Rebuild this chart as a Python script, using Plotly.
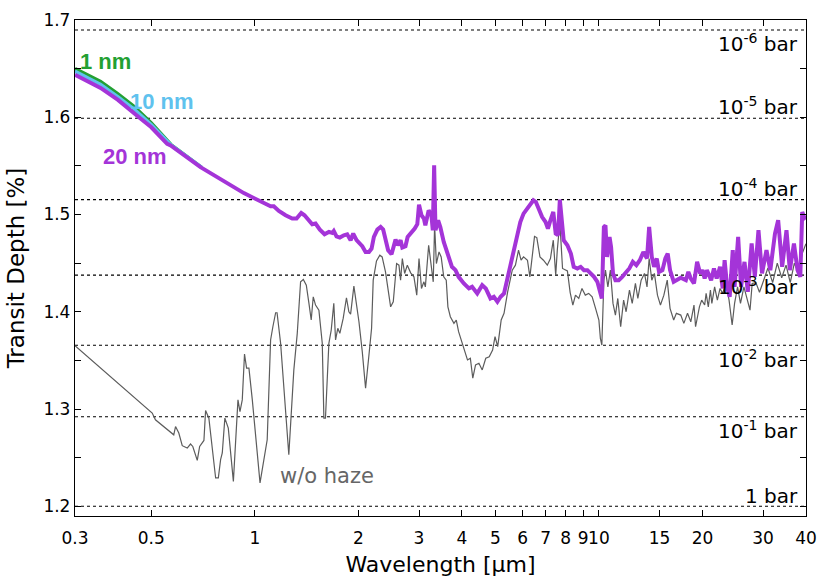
import math
import plotly.graph_objects as go

# ---------------- data ----------------
wl_nohaze = [0.3, 0.4, 0.503, 0.514, 0.55, 0.581, 0.588, 0.601, 0.615, 0.636, 0.650, 0.660, 0.680, 0.691,
             0.711, 0.719, 0.735, 0.752, 0.769, 0.783, 0.795, 0.804, 0.818, 0.837, 0.850, 0.866, 0.893,
             0.905, 0.919, 0.933, 0.946, 0.961, 0.983, 1.035, 1.086, 1.111, 1.128, 1.149, 1.160, 1.188,
             1.255, 1.298, 1.328, 1.358, 1.383, 1.411, 1.436, 1.458, 1.478, 1.501, 1.535, 1.570, 1.587,
             1.604, 1.641, 1.667, 1.696, 1.716, 1.742, 1.766, 1.806, 1.846, 1.876, 1.898, 1.940, 1.985,
             2.007, 2.052, 2.098, 2.146, 2.184, 2.208, 2.257, 2.308, 2.344, 2.397, 2.481, 2.525, 2.582,
             2.623, 2.652, 2.683, 2.725, 2.774, 2.837, 2.900, 2.955, 3.000, 3.05, 3.10, 3.13, 3.20, 3.26,
             3.30, 3.33, 3.37, 3.43, 3.48, 3.54, 3.60, 3.64, 3.70, 3.79, 3.85, 3.91, 4.00, 4.09, 4.15,
             4.23, 4.30, 4.38, 4.48, 4.58, 4.69, 4.80, 4.91, 4.99, 5.08, 5.20, 5.30, 5.43, 5.60, 5.72,
             5.84, 5.94, 6.04, 6.20, 6.30, 6.50, 6.60, 6.74, 6.90, 7.08, 7.23, 7.37, 7.49, 7.57, 7.70,
             7.84, 8.10, 8.25, 8.40, 8.55, 8.74, 8.93, 9.13, 9.34, 9.56, 9.78, 10.0, 10.1, 10.2, 10.34,
             10.45, 10.62, 10.80, 10.99, 11.17, 11.35, 11.57, 11.80, 12.00, 12.27, 12.50, 12.77, 12.98,
             13.27, 13.57, 13.80, 14.00, 14.25, 14.50, 14.80, 15.10, 15.45, 15.80, 16.10, 16.50, 16.80,
             17.3, 17.66, 18.1, 18.5, 18.9, 19.1, 19.6, 19.9, 20.3, 20.5, 20.8, 21.1, 21.3, 21.7, 22.1,
             22.5, 22.9, 23.4, 23.9, 24.4, 24.8, 25.3, 25.8, 26.4, 27.0, 27.5, 27.9, 28.6, 29.3, 30.0,
             31.0, 32.0, 33.0, 34.0, 35.0, 36.0, 37.0, 38.0, 39.0, 40.0]
depth_nohaze = [1.3651, 1.3269, 1.2958, 1.2889, 1.2804, 1.2735, 1.2820, 1.2753, 1.2623, 1.2599, 1.2640,
                1.2615, 1.2472, 1.2615, 1.2677, 1.2985, 1.2906, 1.2582, 1.2291, 1.2291, 1.2479, 1.2548,
                1.2906, 1.2804, 1.2548, 1.2256, 1.3094, 1.2974, 1.3094, 1.3566, 1.3420, 1.3420, 1.3094,
                1.2240, 1.2684, 1.3710, 1.3846, 1.3990, 1.3990, 1.3676, 1.2530, 1.3402, 1.3778, 1.4308,
                1.4332, 1.4274, 1.4086, 1.3915, 1.4154, 1.4069, 1.4017, 1.3676, 1.2906, 1.2906, 1.3676,
                1.3812, 1.4086, 1.3710, 1.3830, 1.3778, 1.3932, 1.4144, 1.4000, 1.3976, 1.4264, 1.4035,
                1.3897, 1.3590, 1.3214, 1.3556, 1.3830, 1.4325, 1.4523, 1.4582, 1.4564, 1.4410, 1.4051,
                1.4103, 1.4496, 1.4479, 1.4325, 1.4548, 1.4394, 1.4479, 1.4400, 1.4359, 1.4171, 1.4548,
                1.4240, 1.4308, 1.4256, 1.4684, 1.4462, 1.4308, 1.4889, 1.4496, 1.4615, 1.4564, 1.4359,
                1.4325, 1.4051, 1.3949, 1.3881, 1.3915, 1.3795, 1.3676, 1.3573, 1.3505, 1.3522, 1.3317,
                1.3453, 1.3470, 1.3402, 1.3522, 1.3538, 1.3607, 1.3744, 1.3641, 1.3915, 1.3984, 1.4205,
                1.4428, 1.4479, 1.4633, 1.4530, 1.4564, 1.4530, 1.4359, 1.4774, 1.4763, 1.4564, 1.4530,
                1.4479, 1.4548, 1.4736, 1.4377, 1.4633, 1.4923, 1.4445, 1.4420, 1.4200, 1.4069, 1.4171,
                1.4137, 1.4240, 1.4171, 1.4189, 1.4154, 1.4035, 1.3915, 1.3727, 1.3658, 1.4325, 1.4428,
                1.4256, 1.4428, 1.4086, 1.3966, 1.4137, 1.3846, 1.4120, 1.4000, 1.4223, 1.4086, 1.4291,
                1.4137, 1.4325, 1.4394, 1.4256, 1.4548, 1.4325, 1.4394, 1.4171, 1.4069, 1.4171, 1.4325,
                1.4035, 1.3915, 1.3984, 1.3966, 1.3881, 1.3984, 1.3897, 1.4069, 1.3846, 1.4051, 1.4120,
                1.4069, 1.4189, 1.4051, 1.4223, 1.4086, 1.4256, 1.4120, 1.4240, 1.4189, 1.4291, 1.4120,
                1.3864, 1.4086, 1.4256, 1.4086, 1.4256, 1.4120, 1.4017, 1.4291, 1.4300, 1.4200, 1.4300,
                1.4450, 1.4300, 1.4500, 1.4350, 1.4480, 1.4300, 1.4500, 1.4400, 1.4600, 1.4700]

wl_20nm = [0.300, 0.356, 0.400, 0.445, 0.466, 0.500, 0.556, 0.569, 0.695, 0.929, 1.039, 1.074, 1.111,
           1.135, 1.174, 1.228, 1.284, 1.322, 1.342, 1.364, 1.394, 1.436, 1.468, 1.501, 1.545, 1.594,
           1.641, 1.679, 1.696, 1.727, 1.766, 1.814, 1.855, 1.898, 1.931, 1.975, 2.020, 2.052, 2.098,
           2.146, 2.184, 2.218, 2.270, 2.320, 2.360, 2.397, 2.440, 2.496, 2.534, 2.564, 2.604, 2.652,
           2.683, 2.740, 2.780, 2.845, 2.915, 2.966, 3.000, 3.050, 3.100, 3.130, 3.200, 3.260, 3.290,
           3.320, 3.350, 3.410, 3.460, 3.540, 3.580, 3.640, 3.740, 3.830, 3.910, 4.050, 4.190, 4.280,
           4.430, 4.580, 4.690, 4.840, 4.950, 5.070, 5.180, 5.300, 5.410, 5.530, 5.650, 5.780, 5.910,
           6.040, 6.190, 6.330, 6.450, 6.560, 6.700, 6.840, 7.000, 7.110, 7.230, 7.370, 7.490, 7.610,
           7.700, 7.780, 7.900, 8.100, 8.290, 8.450, 8.660, 8.850, 9.050, 9.260, 9.470, 9.680, 9.900,
           10.13, 10.20, 10.34, 10.45, 10.56, 10.74, 10.85, 10.99, 11.17, 11.42, 11.69, 11.97, 12.26,
           12.55, 12.85, 13.15, 13.47, 13.80, 14.00, 14.25, 14.47, 14.73, 14.96, 15.30, 15.60, 15.85,
           16.10, 16.50, 16.90, 17.30, 17.90, 18.20, 18.50, 18.90, 19.30, 19.70, 20.00, 20.30, 20.60,
           21.20, 21.60, 22.00, 22.50, 22.90, 23.20, 23.60, 24.00, 24.50, 24.80, 25.40, 25.90, 26.50,
           27.10, 27.80, 28.40, 29.10, 29.80, 30.70, 31.50, 32.50, 33.20, 34.10, 35.10, 35.90, 36.90,
           37.80, 38.50, 39.00, 39.50, 40.00]
depth_20nm = [1.6438, 1.6302, 1.6178, 1.6051, 1.5984, 1.5897, 1.5727, 1.5710, 1.5487, 1.5220, 1.5128,
              1.5105, 1.5084, 1.5084, 1.5036, 1.4992, 1.4958, 1.4958, 1.4992, 1.5015, 1.4992, 1.4933,
              1.4900, 1.4907, 1.4845, 1.4797, 1.4821, 1.4810, 1.4831, 1.4776, 1.4763, 1.4787, 1.4797,
              1.4736, 1.4804, 1.4736, 1.4694, 1.4674, 1.4615, 1.4615, 1.4650, 1.4769, 1.4845, 1.4872,
              1.4845, 1.4736, 1.4633, 1.4592, 1.4667, 1.4742, 1.4684, 1.4736, 1.4661, 1.4674, 1.4769,
              1.4810, 1.4855, 1.4900, 1.5100, 1.4992, 1.4958, 1.4889, 1.5043, 1.4992, 1.4838, 1.5505,
              1.4838, 1.4941, 1.4872, 1.4718, 1.4667, 1.4564, 1.4462, 1.4428, 1.4359, 1.4291, 1.4240,
              1.4256, 1.4189, 1.4274, 1.4240, 1.4137, 1.4154, 1.4103, 1.4154, 1.4189, 1.4325, 1.4496,
              1.4599, 1.4769, 1.4923, 1.5009, 1.5060, 1.5094, 1.5146, 1.5128, 1.5043, 1.4974, 1.4923,
              1.4855, 1.4941, 1.5026, 1.4804, 1.4787, 1.5153, 1.4958, 1.4736, 1.4684, 1.4599, 1.4462,
              1.4445, 1.4462, 1.4428, 1.4428, 1.4394, 1.4359, 1.4308, 1.4189, 1.4137, 1.4872, 1.4889,
              1.4564, 1.4769, 1.4667, 1.4394, 1.4325, 1.4325, 1.4359, 1.4410, 1.4445, 1.4513, 1.4479,
              1.4530, 1.4615, 1.4548, 1.4872, 1.4564, 1.4462, 1.4548, 1.4410, 1.4428, 1.4548, 1.4599,
              1.4428, 1.4308, 1.4325, 1.4350, 1.4325, 1.4410, 1.4342, 1.4291, 1.4513, 1.4394, 1.4428,
              1.4342, 1.4428, 1.4325, 1.4445, 1.4342, 1.4462, 1.4240, 1.4530, 1.4256, 1.4154, 1.4633,
              1.4256, 1.4769, 1.4256, 1.4513, 1.4205, 1.4702, 1.4359, 1.4838, 1.4394, 1.4633, 1.4428,
              1.4804, 1.4941, 1.4462, 1.4838, 1.4428, 1.4702, 1.4428, 1.4359, 1.5026, 1.4974, 1.4950]

# 1 nm and 10 nm curves: only distinguishable from 20 nm at short wavelengths
wl_1nm = [0.300, 0.356, 0.400, 0.445, 0.500, 0.570, 0.700]
depth_1nm = [1.6500, 1.6368, 1.6240, 1.6112, 1.5942, 1.5720, 1.5485]
wl_10nm = [0.300, 0.356, 0.400, 0.445, 0.500, 0.570, 0.700]
depth_10nm = [1.6472, 1.6337, 1.6210, 1.6083, 1.5922, 1.5714, 1.5485]

pressure_levels = [1.2000, 1.2920, 1.3655, 1.4377, 1.5153, 1.5990, 1.6897]
pressure_labels = ["1 bar", "10<sup>-1</sup> bar", "10<sup>-2</sup> bar", "10<sup>-3</sup> bar",
                   "10<sup>-4</sup> bar", "10<sup>-5</sup> bar", "10<sup>-6</sup> bar"]
pressure_label_y = [1.2110, 1.2787, 1.3515, 1.4264, 1.5269, 1.6119, 1.6766]

x_ticks = [0.3, 0.5, 1, 2, 3, 4, 5, 6, 7, 8, 9, 10, 15, 20, 30, 40]
y_ticks = [1.2, 1.3, 1.4, 1.5, 1.6, 1.7]

GREEN = "#23a032"
BLUE = "#5fc2ee"
PURPLE = "#a434d8"
GREY = "#5c5c5c"
FONT = "DejaVu Sans, Verdana, sans-serif"
BOLDFONT = "Liberation Sans, Arial, Helvetica, sans-serif"

fig = go.Figure()
fig.add_trace(go.Scatter(x=wl_nohaze, y=depth_nohaze, mode="lines",
                         line=dict(color=GREY, width=1.2), name="w/o haze"))
fig.add_trace(go.Scatter(x=wl_1nm, y=depth_1nm, mode="lines",
                         line=dict(color=GREEN, width=3.4), name="1 nm"))
fig.add_trace(go.Scatter(x=wl_10nm, y=depth_10nm, mode="lines",
                         line=dict(color=BLUE, width=3.6), name="10 nm"))
fig.add_trace(go.Scatter(x=wl_20nm, y=depth_20nm, mode="lines",
                         line=dict(color=PURPLE, width=4.0), name="20 nm"))

for p in pressure_levels:
    fig.add_shape(type="line", xref="paper", x0=0, x1=1, yref="y", y0=p, y1=p,
                  line=dict(color="black", width=1.1, dash="dot"), layer="below")

for lab, ly in zip(pressure_labels, pressure_label_y):
    fig.add_annotation(text=lab, xref="paper", x=0.992, yref="y", y=ly,
                       xanchor="right", yanchor="middle", showarrow=False,
                       font=dict(size=20, color="black", family=FONT))

curve_labels = [("<b>1 nm</b>", 0.307, 1.6571, GREEN, BOLDFONT, 22),
                ("<b>10 nm</b>", 0.428, 1.6161, BLUE, BOLDFONT, 22),
                ("<b>20 nm</b>", 0.357, 1.5597, PURPLE, BOLDFONT, 22),
                ("w/o haze", 1.164, 1.2315, "#666666", FONT, 21)]
for txt, lx, ly, col, fam, sz in curve_labels:
    fig.add_annotation(text=txt, x=math.log10(lx), y=ly, xref="x", yref="y",
                       xanchor="left", yanchor="middle", showarrow=False,
                       font=dict(size=sz, color=col, family=fam))

fig.update_layout(
    width=830, height=583,
    margin=dict(l=75, r=24, t=20, b=67),
    paper_bgcolor="white", plot_bgcolor="white",
    showlegend=False,
    font=dict(family=FONT, color="black", size=17),
)
fig.update_xaxes(
    type="log", range=[math.log10(0.3), math.log10(40)],
    tickmode="array", tickvals=x_ticks, ticktext=[str(v) for v in x_ticks],
    tickangle=0, ticks="inside", ticklen=6, tickcolor="black",
    ticklabelstandoff=6,
    showline=True, linecolor="black", linewidth=1.3, mirror="allticks",
    showgrid=False, zeroline=False, tickfont=dict(size=17),
    title=dict(text="Wavelength [µm]", font=dict(size=22), standoff=10),
    automargin=False,
)
fig.update_yaxes(
    range=[1.19, 1.70],
    tickmode="array", tickvals=y_ticks, ticktext=[f"{v:.1f}" for v in y_ticks],
    ticks="inside", ticklen=6, tickcolor="black",
    minor=dict(dtick=0.05, tick0=1.2, ticks="inside", ticklen=6, tickcolor="black"),
    showline=True, linecolor="black", linewidth=1.3, mirror="allticks",
    showgrid=False, zeroline=False, tickfont=dict(size=17),
    title=dict(text="Transit Depth [%]", font=dict(size=23), standoff=12),
    automargin=False,
)

fig.write_html("out.html", config={"displayModeBar": False},
               post_script="document.body.style.margin='0px';")
